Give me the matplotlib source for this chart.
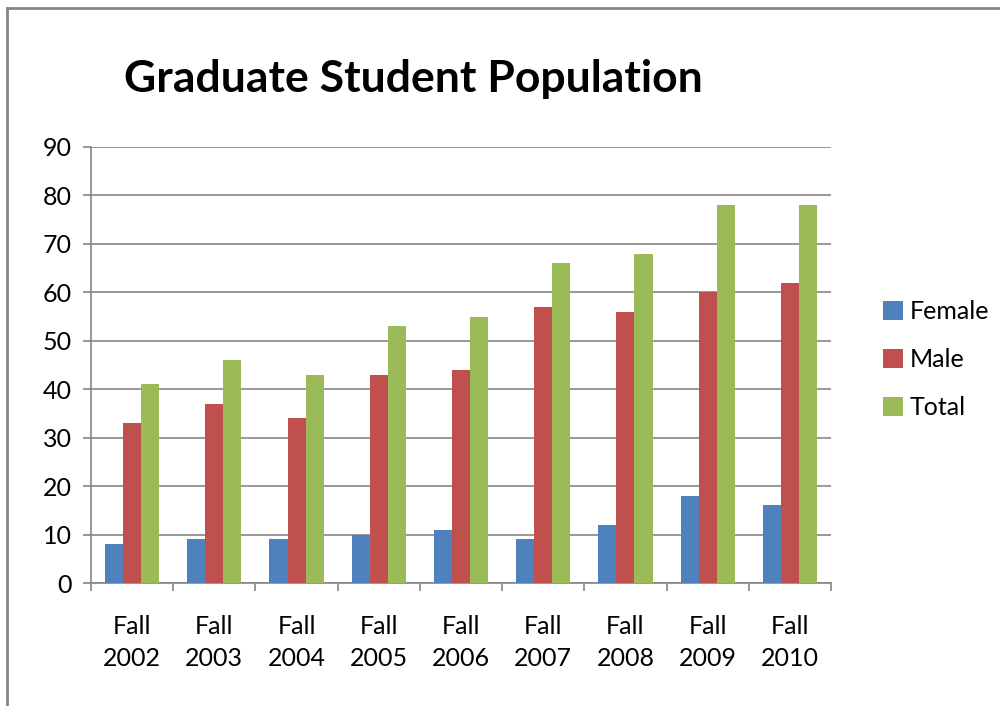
import numpy as np
import matplotlib.pyplot as plt
from matplotlib.lines import Line2D

categories = ["Fall\n2002", "Fall\n2003", "Fall\n2004", "Fall\n2005", "Fall\n2006",
              "Fall\n2007", "Fall\n2008", "Fall\n2009", "Fall\n2010"]
female = [8, 9, 9, 10, 11, 9, 12, 18, 16]
male = [33, 37, 34, 43, 44, 57, 56, 60, 62]
total = [41, 46, 43, 53, 55, 66, 68, 78, 78]

plt.rcParams['font.family'] = ['Lato', 'DejaVu Sans']

fig = plt.figure(figsize=(10, 7.06), dpi=100)
ax = fig.add_axes([0.091, 0.1742, 0.74, 0.6176])

x = np.arange(len(categories))
w = 0.22
gray = "#868686"
ax.bar(x - w, female, w, color="#4F81BD", label="Female", zorder=3)
ax.bar(x, male, w, color="#C0504D", label="Male", zorder=3)
ax.bar(x + w, total, w, color="#9BBB59", label="Total", zorder=3)

ax.set_xlim(-0.5, len(categories) - 0.5)
ax.set_ylim(0, 90)
ax.set_yticks(range(0, 91, 10))
ax.yaxis.grid(True, color=gray, linewidth=1.2, zorder=0)
ax.set_xticks(x)
ax.set_xticklabels(categories, fontsize=18, linespacing=1.5)
ax.set_xticks(np.arange(-0.5, len(categories), 1), minor=True)
ax.tick_params(axis="x", which="major", length=0, pad=23)
ax.tick_params(axis="x", which="minor", length=6, color=gray, width=1.2)
ax.tick_params(axis="y", length=6, color=gray, width=1.2, labelsize=18, pad=8)
for s in ["top", "right"]:
    ax.spines[s].set_visible(False)
for s in ["left", "bottom"]:
    ax.spines[s].set_color(gray)
    ax.spines[s].set_linewidth(1.2)

fig.text(0.413, 0.888, "Graduate Student Population", ha="center", va="center",
         fontsize=32, fontweight="bold")

ax.legend(loc="center left", bbox_to_anchor=(1.04, 0.512), frameon=False,
          fontsize=18, handlelength=0.8, handleheight=0.8, handletextpad=0.25,
          labelspacing=1.0)

# outer chart frame (only top and left edges visible)
fig.add_artist(Line2D([0.007, 0.007], [0, 0.989], transform=fig.transFigure,
                      color=gray, linewidth=2))
fig.add_artist(Line2D([0.007, 1.0], [0.989, 0.989], transform=fig.transFigure,
                      color=gray, linewidth=2))

fig.savefig("out.png", dpi=100)
